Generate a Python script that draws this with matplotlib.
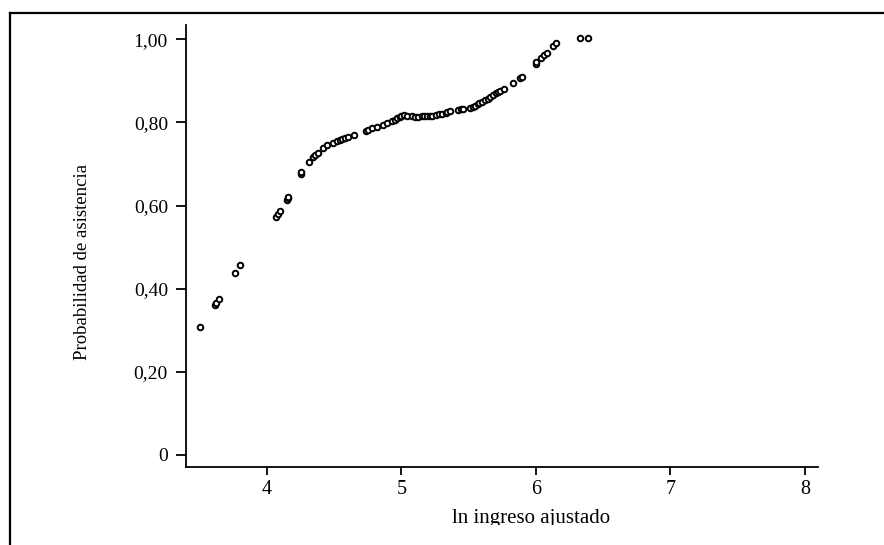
import matplotlib
matplotlib.use("Agg")
import matplotlib.pyplot as plt
from matplotlib.lines import Line2D
from matplotlib.transforms import Bbox, TransformedBbox

# ================================
# DATA
# ================================
ln_ingreso = [
    3.50, 3.61, 3.62, 3.64, 3.76, 3.80,
    4.07, 4.08, 4.10, 4.15, 4.16, 4.16,
    4.25, 4.25, 4.31, 4.34, 4.36, 4.38, 4.42, 4.45, 4.49, 4.52, 4.54,
    4.56, 4.58, 4.60, 4.65, 4.74, 4.75, 4.78, 4.82, 4.86, 4.89, 4.93,
    4.95, 4.97, 4.99, 5.00, 5.02, 5.04, 5.08, 5.10, 5.12, 5.15, 5.17,
    5.19, 5.21, 5.23, 5.26, 5.28, 5.30, 5.33, 5.34, 5.36, 5.42, 5.44,
    5.46, 5.51, 5.53, 5.55, 5.57, 5.58, 5.60, 5.62, 5.64, 5.66, 5.68,
    5.70, 5.72, 5.73, 5.76, 5.83, 5.88, 5.90, 6.00, 6.00, 6.04, 6.06,
    6.08, 6.13, 6.15, 6.33, 6.39,
]
prob_asistencia = [
    0.308, 0.361, 0.366, 0.375, 0.437, 0.457,
    0.572, 0.579, 0.587, 0.614, 0.618, 0.621,
    0.676, 0.680, 0.704, 0.716, 0.721, 0.726, 0.738, 0.746, 0.750, 0.755, 0.757,
    0.760, 0.762, 0.764, 0.769, 0.779, 0.781, 0.786, 0.788, 0.793, 0.798, 0.803,
    0.806, 0.810, 0.812, 0.815, 0.817, 0.816, 0.815, 0.814, 0.813, 0.815, 0.815,
    0.815, 0.816, 0.815, 0.818, 0.820, 0.820, 0.822, 0.825, 0.827, 0.830, 0.832,
    0.832, 0.834, 0.836, 0.839, 0.843, 0.846, 0.850, 0.853, 0.857, 0.861, 0.865,
    0.870, 0.873, 0.875, 0.880, 0.894, 0.906, 0.909, 0.940, 0.944, 0.955, 0.962,
    0.968, 0.983, 0.990, 1.002, 1.002,
]

x_ticks = [4, 5, 6, 7, 8]
y_ticks = [0, 0.2, 0.4, 0.6, 0.8, 1.0]
y_tick_labels = ["0", "0,20", "0,40", "0,60", "0,80", "1,00"]

# ================================
# FIGURE
# ================================
plt.rcParams["font.family"] = ["Liberation Serif", "DejaVu Serif"]

fig = plt.figure(figsize=(8.84, 5.45), dpi=100)
ax = fig.add_axes([0.2104, 0.1431, 0.7149, 0.8109])

ax.scatter(ln_ingreso, prob_asistencia, s=16, facecolors="white",
           edgecolors="black", linewidths=1.4, zorder=3)

ax.set_xlim(3.398, 8.097)
ax.set_ylim(-0.029, 1.034)
ax.set_xticks(x_ticks)
ax.set_yticks(y_ticks)
ax.set_yticklabels(y_tick_labels)

for side in ["top", "right"]:
    ax.spines[side].set_visible(False)
for side in ["left", "bottom"]:
    ax.spines[side].set_linewidth(1.3)

ax.tick_params(axis="y", direction="out", length=7, width=1.3, pad=6, labelsize=14)
ax.tick_params(axis="x", direction="out", length=6, width=1.3, pad=3, labelsize=14.5)

xl = ax.set_xlabel("ln ingreso ajustado", fontsize=15)
ax.set_ylabel("Probabilidad de asistencia", fontsize=13.5)
# label positions as in the reference (slightly off-centre)
ax.xaxis.set_label_coords(0.546, -0.095, transform=ax.transAxes)
ax.yaxis.set_label_coords(-0.151, 0.464, transform=ax.transAxes)

# the x label is cut off at the bottom in the reference
xl.set_clip_on(True)
xl.set_clip_box(TransformedBbox(Bbox([[0, 20 / 545], [1, 1]]), fig.transFigure))

# outer frame (top and left edges visible)
fig.add_artist(Line2D([10 / 884, 1.0], [1 - 13 / 545, 1 - 13 / 545],
                      transform=fig.transFigure, color="black", lw=1.6))
fig.add_artist(Line2D([10 / 884, 10 / 884], [0.0, 1 - 13 / 545],
                      transform=fig.transFigure, color="black", lw=1.6))

fig.savefig("out.png", dpi=100)
